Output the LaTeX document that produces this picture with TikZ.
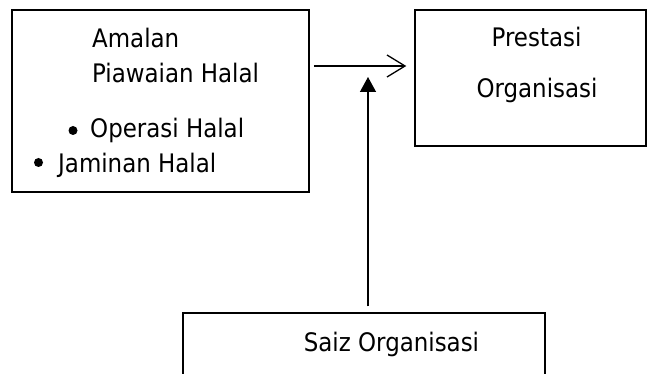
\documentclass[tikz,border=0pt]{standalone}
\usepackage{fontspec}
\setmainfont{DejaVu Sans Condensed}
\usetikzlibrary{arrows.meta}

\begin{document}
\begin{tikzpicture}[x=1pt, y=-1pt,
    kotak/.style={draw, line width=1.5pt, inner sep=0pt},
    teks/.style={inner sep=0pt, font=\fontsize{25.5}{30}\selectfont},
    garis/.style={line width=1.3pt}]
  \useasboundingbox (0,0) rectangle (647,374);

  % boxes
  \node[kotak, minimum width=297pt, minimum height=182pt] (amalan) at (160.5,101) {};
  \node[kotak, minimum width=231pt, minimum height=136pt] (prestasi) at (530.5,78) {};
  \node[kotak, minimum width=362pt, minimum height=100pt] (saiz) at (364,363) {};

  % left box text
  \node[teks, anchor=base west] (judul1) at (92,48) {Amalan};
  \node[teks, anchor=base west] (judul2) at (92,83) {Piawaian Halal};
  \foreach \bx/\by/\tx/\ty/\isi [count=\i] in {
      73/130.5/90/138/Operasi Halal,
      38.5/162.5/58/172/Jaminan Halal} {
    \fill (\bx,\by) circle[radius=4.5pt];
    \node[teks, anchor=base west] (item\i) at (\tx,\ty) {\isi};
  }

  % right and bottom box text
  \node[teks, anchor=base] (hasil1) at (536.5,47) {Prestasi};
  \node[teks, anchor=base] (hasil2) at (537,98) {Organisasi};
  \node[teks, anchor=base] (moderator) at (391.5,351) {Saiz Organisasi};

  % connectors
  \coordinate (temu) at (368,66);
  \draw[garis, -{Straight Barb[length=18pt, width=22pt]}, shorten <=4pt, shorten >=8pt]
    (amalan.east |- temu) -- (prestasi.west |- temu);
  \draw[garis, -{Triangle[length=15pt, width=16pt]}, shorten <=6pt, shorten >=11pt]
    (saiz.north -| temu) -- (temu);
\end{tikzpicture}
\end{document}
